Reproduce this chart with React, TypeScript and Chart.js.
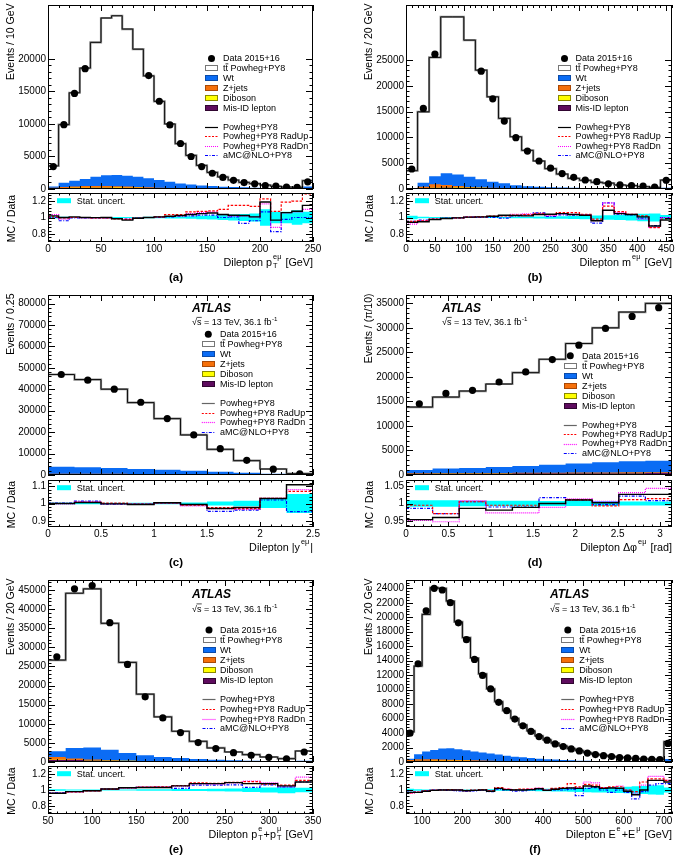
import React, { useEffect, useRef } from 'react';
import { Chart, registerables } from 'chart.js';

Chart.register(...registerables);

const FONT = '"Liberation Sans", Arial, Helvetica, sans-serif';
const C_WT = '#0b6cf4';
const C_ZJ = '#f5700a';
const C_DB = '#ffff00';
const C_MIS = '#5e0b5e';
const C_STAT = '#00ffff';
const C_UP = '#ff0000';
const C_DN = '#ff00ff';
const C_AMC = '#0000ff';

// ---------------- (a) dilepton pT ----------------
const aEdges = [0, 10, 20, 30, 40, 50, 60, 70, 80, 90, 100, 110, 120, 130, 140, 150, 160, 170, 180, 190, 200, 210, 220, 230, 240, 250];
const aData = [3450, 9900, 14700, 18500, null, null, null, null, null, 17450, 13500, 9850, 7000, 5000, 3450, 2420, 1780, 1330, 990, 800, 520, 440, 285, 245, 1110];
const aPred = [3550, 9900, 14800, 18600, 22550, 26300, 26650, 24600, 21500, 17400, 13480, 10000, 6970, 5170, 3630, 2550, 1850, 1380, 1020, 815, 610, 420, 300, 265, 1280];
const aWt = [210, 660, 900, 1100, 1425, 1630, 1730, 1680, 1585, 1390, 1175, 935, 720, 595, 462, 380, 290, 249, 207, 165, 119, 94, 78, 62, 330];
const aZjets = [100, 150, 200, 240, 250, 240, 200, 160, 120, 90, 60, 45, 35, 25, 20, 15, 12, 10, 8, 6, 5, 4, 4, 3, 10];
const aDiboson = [10, 20, 30, 40, 45, 50, 50, 50, 45, 40, 35, 30, 25, 20, 18, 15, 13, 11, 10, 9, 8, 7, 6, 5, 20];
const aMisid = [80, 120, 150, 170, 180, 180, 170, 160, 150, 130, 110, 90, 70, 60, 50, 40, 35, 30, 25, 20, 18, 15, 12, 10, 40];
const aRNom = [1.02, 1.0, 1.008, 1.0, 0.998, 1.0, 0.984, 0.968, 0.99, 1.0, 1.008, 1.016, 1.024, 1.036, 1.048, 1.056, 1.036, 1.028, 1.024, 1.008, 1.19, 0.968, 1.06, 1.076, 1.148];
const aRUp = [1.008, 0.996, 1.0, 1.0, 0.996, 0.996, 0.984, 0.976, 0.992, 1.0, 1.008, 1.036, 1.036, 1.068, 1.076, 1.08, 1.1, 1.148, 1.148, 1.136, 1.228, 1.076, 1.188, 1.2, 1.288];
const aRDn = [1.036, 0.98, 1.0, 0.996, 0.996, 0.996, 0.988, 0.976, 0.99, 1.0, 1.004, 1.012, 1.02, 1.048, 1.06, 1.068, 1.036, 1.016, 1.016, 1.008, 1.168, 0.88, 1.056, 1.068, 1.1];
const aRAmc = [1.0, 0.96, 0.996, 0.996, 0.996, 0.996, 0.988, 0.98, 0.992, 1.0, 1.0, 1.008, 1.016, 1.02, 1.03, 1.03, 1.0, 1.008, 0.928, 0.96, 1.068, 0.828, 0.976, 1.0, 1.0];
const aStat = [0.012, 0.008, 0.006, 0.006, 0.006, 0.006, 0.006, 0.006, 0.007, 0.008, 0.009, 0.011, 0.013, 0.016, 0.02, 0.024, 0.03, 0.036, 0.042, 0.05, 0.1, 0.07, 0.07, 0.09, 0.07];
const aXTicks = [0, 50, 100, 150, 200, 250];
const aXLabels = ['0', '50', '100', '150', '200', '250'];
const aYTicks = [0, 5000, 10000, 15000, 20000];
const aYLabels = ['0', '5000', '10000', '15000', '20000'];

// ---------------- (b) dilepton mass ----------------
const bEdges = [0, 20, 40, 60, 80, 100, 120, 140, 160, 180, 200, 220, 240, 260, 280, 300, 320, 340, 360, 380, 400, 420, 440, 460];
const bData = [3880, 15640, 26160, null, null, null, 22870, 17500, 13180, 9950, 7360, 5430, 4050, 3000, 2260, 1750, 1420, 1010, 800, 650, 550, 390, 1700];
const bPred = [3550, 14980, 25520, 33400, 33400, 28880, 23060, 17890, 13700, 10140, 7500, 5430, 3940, 2900, 2070, 1690, 1300, 1140, 780, 650, 450, 320, 1740];
const bWt = [115, 770, 1580, 2270, 2230, 1995, 1570, 1185, 915, 610, 440, 332, 279, 223, 174, 143, 119, 95, 79, 62, 56, 48, 200];
const bZjets = [20, 250, 600, 450, 250, 120, 70, 40, 25, 15, 10, 8, 6, 5, 4, 3, 3, 2, 2, 2, 1, 1, 5];
const bDiboson = [5, 30, 50, 60, 60, 55, 50, 45, 40, 35, 30, 25, 20, 17, 14, 12, 10, 8, 7, 6, 5, 4, 15];
const bMisid = [30, 150, 250, 280, 260, 230, 190, 150, 120, 90, 70, 55, 45, 35, 28, 22, 18, 15, 12, 10, 8, 7, 30];
const bRNom = [0.94, 0.948, 0.976, 0.988, 0.996, 1.004, 1.008, 1.016, 1.028, 1.024, 1.02, 1.036, 1.04, 1.048, 1.036, 1.028, 0.96, 1.088, 1.048, 1.036, 1.008, 0.896, 0.968];
const bRUp = [0.952, 0.96, 0.98, 0.99, 0.996, 1.004, 1.008, 1.016, 1.02, 1.028, 1.036, 1.052, 1.036, 1.06, 1.06, 1.04, 0.98, 1.14, 1.072, 1.04, 1.02, 0.876, 0.98];
const bRDn = [0.92, 0.96, 0.976, 0.988, 0.996, 1.004, 1.008, 1.012, 1.024, 1.04, 1.044, 1.048, 1.024, 1.044, 1.04, 1.036, 0.96, 1.18, 1.06, 1.04, 0.98, 0.88, 1.0];
const bRAmc = [0.952, 0.968, 0.98, 0.992, 0.996, 1.004, 1.0, 1.0, 0.992, 1.02, 1.028, 1.056, 1.012, 1.032, 1.028, 1.028, 0.932, 1.18, 1.04, 1.032, 0.992, 0.9, 1.0];
const bStat = [0.02, 0.008, 0.006, 0.005, 0.005, 0.005, 0.006, 0.007, 0.008, 0.009, 0.01, 0.012, 0.014, 0.016, 0.019, 0.022, 0.025, 0.028, 0.032, 0.036, 0.045, 0.05, 0.03];
const bXTicks = [0, 50, 100, 150, 200, 250, 300, 350, 400, 450];
const bXLabels = ['0', '50', '100', '150', '200', '250', '300', '350', '400', '450'];
const bYTicks = [0, 5000, 10000, 15000, 20000, 25000];
const bYLabels = ['0', '5000', '10000', '15000', '20000', '25000'];

// ---------------- (c) dilepton |y| ----------------
const cEdges = [0, 0.25, 0.5, 0.75, 1, 1.25, 1.5, 1.75, 2, 2.25, 2.5];
const cData = [46900, 44240, 40030, 33960, 26320, 18690, 12300, 6850, 2700, 560];
const cPred = [46900, 44550, 40030, 33800, 26320, 18690, 11990, 6700, 2800, 620];
const cWt = [3280, 2987, 2705, 2280, 2025, 1625, 1258, 895, 522, 173];
const cZjets = [120, 115, 110, 100, 90, 75, 60, 40, 20, 5];
const cDiboson = [50, 48, 45, 40, 35, 30, 22, 15, 8, 2];
const cMisid = [450, 430, 410, 380, 340, 290, 220, 150, 70, 20];
const cRNom = [1.0, 1.006, 0.998, 0.994, 1.004, 0.994, 0.971, 0.977, 1.029, 1.108];
const cRUp = [1.0, 1.006, 1.002, 0.996, 1.004, 0.99, 0.976, 0.97, 1.03, 1.07];
const cRDn = [0.998, 1.01, 0.998, 0.996, 1.002, 0.986, 0.97, 0.966, 1.03, 1.08];
const cRAmc = [1.002, 1.014, 0.996, 0.996, 1.004, 0.994, 0.955, 0.962, 1.02, 0.953];
const cStat = [0.004, 0.004, 0.004, 0.004, 0.005, 0.006, 0.012, 0.016, 0.026, 0.055];
const cXTicks = [0, 0.5, 1, 1.5, 2, 2.5];
const cXLabels = ['0', '0.5', '1', '1.5', '2', '2.5'];
const cYTicks = [0, 10000, 20000, 30000, 40000, 50000, 60000, 70000, 80000];
const cYLabels = ['0', '10000', '20000', '30000', '40000', '50000', '60000', '70000', '80000'];

// ---------------- (d) dilepton delta phi ----------------
const dEdges = [0, 0.3142, 0.6283, 0.9425, 1.2566, 1.5708, 1.885, 2.1991, 2.5133, 2.8274, 3.1416];
const dData = [14530, 16640, 17260, 18960, 21010, 23530, 26470, 29880, 32330, 34110];
const dPred = [13850, 15890, 17120, 18550, 20870, 23600, 26810, 30010, 33220, 34990];
const dWt = [660, 923, 1036, 1224, 1402, 1650, 1833, 2076, 2254, 2352];
const dZjets = [40, 45, 50, 60, 70, 80, 95, 110, 130, 150];
const dDiboson = [20, 22, 24, 26, 28, 30, 32, 34, 36, 38];
const dMisid = [300, 310, 320, 330, 340, 350, 360, 370, 380, 390];
const dRNom = [0.954, 0.96, 0.986, 0.981, 0.989, 1.0, 1.01, 1.002, 1.026, 1.026];
const dRUp = [0.995, 0.971, 1.005, 0.995, 0.995, 1.0, 1.011, 0.993, 1.011, 1.014];
const dRDn = [0.952, 0.948, 1.008, 0.973, 0.973, 0.989, 1.013, 1.006, 1.031, 1.043];
const dRAmc = [0.986, 0.971, 1.005, 0.99, 0.99, 1.017, 1.01, 0.997, 1.021, 1.008];
const dStat = [0.009, 0.009, 0.008, 0.008, 0.008, 0.007, 0.007, 0.007, 0.006, 0.006];
const dXTicks = [0, 0.5, 1, 1.5, 2, 2.5, 3];
const dXLabels = ['0', '0.5', '1', '1.5', '2', '2.5', '3'];
const dYTicks = [0, 5000, 10000, 15000, 20000, 25000, 30000, 35000];
const dYLabels = ['0', '5000', '10000', '15000', '20000', '25000', '30000', '35000'];

// ---------------- (e) pT(e)+pT(mu) ----------------
const eEdges = [50, 70, 90, 110, 130, 150, 170, 190, 210, 230, 250, 270, 290, 310, 330, 350];
const eData = [27530, 45280, 46150, 36450, 25520, 17050, 11540, 7690, 5070, 3500, 2450, 1750, 1210, 830, 2620];
const ePred = [26660, 44140, 45280, 36280, 26050, 17740, 11800, 8040, 5420, 3670, 2620, 1920, 1310, 870, 2880];
const eWt = [1470, 2775, 3135, 2775, 2025, 1508, 1133, 924, 698, 544, 392, 314, 232, 150, 302];
const eZjets = [750, 350, 150, 70, 35, 20, 12, 8, 5, 4, 3, 2, 2, 1, 3];
const eDiboson = [30, 45, 55, 55, 50, 42, 35, 28, 22, 17, 13, 10, 8, 6, 15];
const eMisid = [550, 500, 420, 330, 250, 180, 130, 90, 65, 45, 32, 24, 18, 13, 30];
const eRNom = [0.96, 0.98, 0.99, 1.012, 1.028, 1.032, 1.032, 1.052, 1.08, 1.08, 1.092, 1.08, 1.08, 1.052, 1.1];
const eRUp = [0.956, 0.976, 0.988, 1.012, 1.028, 1.036, 1.04, 1.056, 1.088, 1.084, 1.096, 1.104, 1.072, 1.06, 1.12];
const eRDn = [0.96, 0.976, 0.992, 1.012, 1.024, 1.036, 1.036, 1.048, 1.076, 1.072, 1.088, 1.112, 1.088, 1.04, 1.16];
const eRAmc = [0.964, 0.98, 0.992, 1.012, 1.028, 1.032, 1.036, 1.02, 1.06, 1.06, 1.064, 1.032, 1.064, 1.04, 1.1];
const eStat = [0.008, 0.006, 0.006, 0.006, 0.007, 0.008, 0.01, 0.012, 0.014, 0.017, 0.02, 0.024, 0.03, 0.04, 0.028];
const eXTicks = [50, 100, 150, 200, 250, 300, 350];
const eXLabels = ['50', '100', '150', '200', '250', '300', '350'];
const eYTicks = [0, 5000, 10000, 15000, 20000, 25000, 30000, 35000, 40000, 45000];
const eYLabels = ['0', '5000', '10000', '15000', '20000', '25000', '30000', '35000', '40000', '45000'];

// ---------------- (f) E(e)+E(mu) ----------------
const fEdges = [60, 80, 100, 120, 140, 160, 180, 200, 220, 240, 260, 280, 300, 320, 340, 360, 380, 400, 420, 440, 460, 480, 500, 520, 540, 560, 580, 600, 620, 640, 660, 680, 700, 720];
const fData = [3990, 13580, 20900, 24000, 23770, 22010, 19230, 16910, 14180, 11960, 10100, 8250, 7090, 5930, 5000, 4220, 3520, 3010, 2500, 2130, 1810, 1530, 1240, 1020, 880, 760, 620, 560, 490, 410, 355, 320, 2560];
const fPred = [4170, 13250, 20390, 24100, 24000, 22240, 19370, 17190, 14370, 12190, 10100, 8340, 7090, 6020, 5140, 4310, 3610, 3060, 2600, 2220, 1850, 1580, 1300, 1070, 930, 790, 650, 560, 460, 420, 400, 360, 2830];
const fWt = [185, 695, 1055, 1305, 1505, 1582, 1470, 1360, 1212, 1099, 986, 869, 750, 630, 556, 479, 391, 332, 281, 239, 196, 161, 136, 109, 93, 80, 66, 59, 50, 42, 37, 33, 340];
const fZjets = [120, 200, 200, 180, 160, 140, 120, 100, 80, 65, 50, 40, 32, 25, 20, 16, 13, 10, 8, 6, 5, 4, 3, 3, 2, 2, 2, 1, 1, 1, 1, 1, 10];
const fDiboson = [5, 15, 25, 30, 35, 38, 40, 40, 38, 36, 34, 31, 28, 25, 22, 20, 18, 16, 14, 12, 10, 9, 8, 7, 6, 5, 5, 4, 4, 3, 3, 3, 20];
const fMisid = [150, 160, 160, 155, 150, 140, 130, 120, 110, 100, 90, 80, 70, 60, 52, 45, 38, 32, 27, 23, 19, 16, 13, 11, 9, 8, 7, 6, 5, 4, 4, 3, 30];
const fRNom = [0.97, 0.97, 0.985, 0.995, 1.0, 1.0, 1.0, 0.99, 0.995, 1.0, 0.985, 1.02, 1.005, 1.0, 1.0, 1.005, 1.015, 0.995, 1.01, 1.02, 1.025, 1.02, 1.05, 1.04, 1.02, 1.025, 1.02, 0.985, 0.94, 1.0, 1.12, 1.12, 1.1];
const fRUp = [0.965, 0.975, 0.99, 1.0, 1.0, 1.005, 1.0, 0.995, 1.0, 1.005, 0.99, 1.03, 1.01, 1.005, 1.01, 1.01, 1.02, 1.0, 1.02, 1.03, 1.08, 1.04, 1.07, 1.06, 1.03, 1.04, 1.04, 1.0, 0.98, 1.1, 1.14, 1.14, 1.12];
const fRDn = [0.96, 0.97, 0.985, 0.995, 1.0, 1.0, 1.005, 0.99, 0.995, 1.0, 0.99, 1.02, 1.01, 1.0, 1.005, 1.01, 1.025, 1.0, 1.01, 1.02, 1.03, 1.03, 1.1, 1.09, 1.03, 1.03, 1.05, 1.0, 0.96, 1.06, 1.17, 1.17, 1.12];
const fRAmc = [0.975, 0.975, 0.99, 1.0, 1.005, 0.995, 0.99, 0.985, 0.99, 0.995, 0.98, 1.01, 1.0, 0.985, 0.99, 1.0, 1.01, 0.995, 1.0, 1.0, 1.01, 0.93, 1.02, 1.03, 1.0, 0.97, 1.0, 0.97, 0.89, 0.98, 1.06, 1.08, 1.08];
const fStat = [0.015, 0.008, 0.006, 0.006, 0.006, 0.006, 0.006, 0.007, 0.007, 0.008, 0.009, 0.01, 0.011, 0.012, 0.013, 0.014, 0.016, 0.017, 0.019, 0.02, 0.022, 0.024, 0.027, 0.03, 0.032, 0.035, 0.038, 0.042, 0.047, 0.05, 0.055, 0.06, 0.03];
const fXTicks = [100, 200, 300, 400, 500, 600, 700];
const fXLabels = ['100', '200', '300', '400', '500', '600', '700'];
const fYTicks = [0, 2000, 4000, 6000, 8000, 10000, 12000, 14000, 16000, 18000, 20000, 22000, 24000];
const fYLabels = ['0', '2000', '4000', '6000', '8000', '10000', '12000', '14000', '16000', '18000', '20000', '22000', '24000'];

// ratio axes
const rTicksWide = [0.8, 1, 1.2];
const rLabelsWide = ['0.8', '1', '1.2'];
const rTicksC = [0.9, 1, 1.1];
const rLabelsC = ['0.9', '1', '1.1'];
const rTicksD = [0.95, 1, 1.05];
const rLabelsD = ['0.95', '1', '1.05'];

// ---------------- layout ----------------
const COLS = [
  { x0: 0, fl: 48, fr: 313, yTitleX: 11, rTitleX: 12, statX: 57, tagX: 176 },
  { x0: 342, fl: 406, fr: 672, yTitleX: 369, rTitleX: 370, statX: 415, tagX: 535 },
];
const ROWS = [
  { mt: 5, mb: 189, rt: 193, rb: 242 },
  { mt: 295, mb: 475, rt: 480, rb: 527 },
  { mt: 580, mb: 762, rt: 766, rb: 814 },
];
const CW = 343;

const PANELS: any[] = [
  {
    key: 'a', col: 0, row: 0, edges: aEdges, data: aData, pred: aPred, wt: aWt, zjets: aZjets, diboson: aDiboson, misid: aMisid,
    rNom: aRNom, rUp: aRUp, rDn: aRDn, rAmc: aRAmc, stat: aStat,
    xMin: 0, xMax: 250, xTicks: aXTicks, xLabels: aXLabels, xMinor: 10,
    yMax: 28300, yTicks: aYTicks, yLabels: aYLabels, yMinor: 1000, yTickTop: 20000,
    rMin: 0.7, rMax: 1.3, rTicks: rTicksWide, rLabels: rLabelsWide, rMinor: 0.04,
    yTitle: 'Events / 10 GeV',
    xTitle: [{ t: 'Dilepton p' }, { sub: 'T', sup: 'eμ' }, { t: ' [GeV]' }],
    tag: '(a)', atlas: null, nomColor: '#000',
    legend: { mx: 211.5, tx: 223, y1: 58.5, s1: 9.85, y2: 126.7, s2: 9.45 },
  },
  {
    key: 'b', col: 1, row: 0, edges: bEdges, data: bData, pred: bPred, wt: bWt, zjets: bZjets, diboson: bDiboson, misid: bMisid,
    rNom: bRNom, rUp: bRUp, rDn: bRDn, rAmc: bRAmc, stat: bStat,
    xMin: 0, xMax: 460, xTicks: bXTicks, xLabels: bXLabels, xMinor: 10,
    yMax: 35700, yTicks: bYTicks, yLabels: bYLabels, yMinor: 1000, yTickTop: 25000,
    rMin: 0.7, rMax: 1.3, rTicks: rTicksWide, rLabels: rLabelsWide, rMinor: 0.04,
    yTitle: 'Events / 20 GeV',
    xTitle: [{ t: 'Dilepton m' }, { sup: 'eμ' }, { t: ' [GeV]' }],
    tag: '(b)', atlas: null, nomColor: '#000',
    legend: { mx: 564.5, tx: 575.5, y1: 58.5, s1: 9.85, y2: 126.7, s2: 9.45 },
  },
  {
    key: 'c', col: 0, row: 1, edges: cEdges, data: cData, pred: cPred, wt: cWt, zjets: cZjets, diboson: cDiboson, misid: cMisid,
    rNom: cRNom, rUp: cRUp, rDn: cRDn, rAmc: cRAmc, stat: cStat,
    xMin: 0, xMax: 2.5, xTicks: cXTicks, xLabels: cXLabels, xMinor: 0.1,
    yMax: 84000, yTicks: cYTicks, yLabels: cYLabels, yMinor: 2000, yTickTop: 84000,
    rMin: 0.865, rMax: 1.135, rTicks: rTicksC, rLabels: rLabelsC, rMinor: 0.02,
    yTitle: 'Events / 0.25',
    xTitle: [{ t: 'Dilepton |y' }, { sup: 'eμ' }, { t: '|' }],
    tag: '(c)', atlas: { x: 192, y: 311.5, sy: 325 }, nomColor: '#666',
    legend: { mx: 208.3, tx: 220, y1: 334.3, s1: 10, y2: 403.3, s2: 9.47 },
  },
  {
    key: 'd', col: 1, row: 1, edges: dEdges, data: dData, pred: dPred, wt: dWt, zjets: dZjets, diboson: dDiboson, misid: dMisid,
    rNom: dRNom, rUp: dRUp, rDn: dRDn, rAmc: dRAmc, stat: dStat,
    xMin: 0, xMax: 3.1416, xTicks: dXTicks, xLabels: dXLabels, xMinor: 0.1,
    yMax: 36700, yTicks: dYTicks, yLabels: dYLabels, yMinor: 1000, yTickTop: 36700,
    rMin: 0.933, rMax: 1.067, rTicks: rTicksD, rLabels: rLabelsD, rMinor: 0.01,
    yTitle: 'Events / (π/10)',
    xTitle: [{ t: 'Dilepton Δφ' }, { sup: 'eμ' }, { t: ' [rad]' }],
    tag: '(d)', atlas: { x: 442, y: 311.5, sy: 325 }, nomColor: '#666',
    legend: { mx: 570.3, tx: 582, y1: 355.7, s1: 10, y2: 425, s2: 9.25 },
  },
  {
    key: 'e', col: 0, row: 2, edges: eEdges, data: eData, pred: ePred, wt: eWt, zjets: eZjets, diboson: eDiboson, misid: eMisid,
    rNom: eRNom, rUp: eRUp, rDn: eRDn, rAmc: eRAmc, stat: eStat,
    xMin: 50, xMax: 350, xTicks: eXTicks, xLabels: eXLabels, xMinor: 10,
    yMax: 47600, yTicks: eYTicks, yLabels: eYLabels, yMinor: 1000, yTickTop: 47600,
    rMin: 0.7, rMax: 1.3, rTicks: rTicksWide, rLabels: rLabelsWide, rMinor: 0.04,
    yTitle: 'Events / 20 GeV',
    xTitle: [{ t: 'Dilepton p' }, { sub: 'T', sup: 'e' }, { t: '+p' }, { sub: 'T', sup: 'μ' }, { t: ' [GeV]' }],
    tag: '(e)', atlas: { x: 192, y: 598, sy: 611.5 }, nomColor: '#666',
    legend: { mx: 209, tx: 220, y1: 630, s1: 10.1, y2: 699.3, s2: 9.67 },
  },
  {
    key: 'f', col: 1, row: 2, edges: fEdges, data: fData, pred: fPred, wt: fWt, zjets: fZjets, diboson: fDiboson, misid: fMisid,
    rNom: fRNom, rUp: fRUp, rDn: fRDn, rAmc: fRAmc, stat: fStat,
    xMin: 60, xMax: 720, xTicks: fXTicks, xLabels: fXLabels, xMinor: 20,
    yMax: 25150, yTicks: fYTicks, yLabels: fYLabels, yMinor: 400, yTickTop: 25150,
    rMin: 0.7, rMax: 1.3, rTicks: rTicksWide, rLabels: rLabelsWide, rMinor: 0.04,
    yTitle: 'Events / 20 GeV',
    xTitle: [{ t: 'Dilepton E' }, { sup: 'e' }, { t: '+E' }, { sup: 'μ' }, { t: ' [GeV]' }],
    tag: '(f)', atlas: { x: 550, y: 598, sy: 611.5 }, nomColor: '#666',
    legend: { mx: 567.8, tx: 579.3, y1: 630, s1: 10.1, y2: 699.3, s2: 9.67 },
  },
];

// ---------------- helpers ----------------
function stepPoints(edges: number[], vals: number[]) {
  const pts = vals.map((v, i) => ({ x: edges[i], y: v }));
  pts.push({ x: edges[edges.length - 1], y: vals[vals.length - 1] });
  return pts;
}
function addArr(a: number[], b: number[]) {
  return a.map((v, i) => v + b[i]);
}
function labelFor(ticks: number[], labels: string[], v: number) {
  const i = ticks.findIndex((t) => Math.abs(t - v) < 1e-6 * Math.max(1, Math.abs(t)));
  return i >= 0 ? labels[i] : '';
}

function frameAndTicks(ctx: any, ca: any, xs: any, ys: any, xt: number[], xminor: number, yt: number[], yminor: number, yTop: number, xMaj: number, xMin: number, yMaj: number, yMin: number) {
  ctx.save();
  ctx.strokeStyle = '#000';
  ctx.lineWidth = 1;
  ctx.setLineDash([]);
  ctx.beginPath();
  const near = (arr: number[], v: number, step: number) => arr.some((m) => Math.abs(m - v) < step * 0.01);
  const k0 = Math.ceil(xs.min / xminor - 1e-6);
  const k1 = Math.floor(xs.max / xminor + 1e-6);
  for (let k = k0; k <= k1; k++) {
    const v = k * xminor;
    const L = near(xt, v, xminor) ? xMaj : xMin;
    const px = Math.round(xs.getPixelForValue(v)) + 0.5;
    ctx.moveTo(px, ca.bottom);
    ctx.lineTo(px, ca.bottom - L);
    ctx.moveTo(px, ca.top);
    ctx.lineTo(px, ca.top + L);
  }
  const j0 = Math.ceil(ys.min / yminor - 1e-6);
  const j1 = Math.floor(Math.min(ys.max, yTop) / yminor + 1e-6);
  for (let j = j0; j <= j1; j++) {
    const v = j * yminor;
    const L = near(yt, v, yminor) ? yMaj : yMin;
    const py = Math.round(ys.getPixelForValue(v)) + 0.5;
    ctx.moveTo(ca.left, py);
    ctx.lineTo(ca.left + L, py);
    ctx.moveTo(ca.right, py);
    ctx.lineTo(ca.right - L, py);
  }
  ctx.stroke();
  ctx.strokeRect(ca.left + 0.5, ca.top + 0.5, ca.right - ca.left - 1, ca.bottom - ca.top - 1);
  ctx.restore();
}

function drawRich(ctx: any, segs: any[], xRight: number, yBase: number, size: number) {
  const base = `${size}px ${FONT}`;
  const small = `${(size * 0.68).toFixed(2)}px ${FONT}`;
  const widths = segs.map((s) => {
    if (s.t != null) {
      ctx.font = base;
      return ctx.measureText(s.t).width;
    }
    ctx.font = small;
    const w1 = s.sup ? ctx.measureText(s.sup).width : 0;
    const w2 = s.sub ? ctx.measureText(s.sub).width : 0;
    return Math.max(w1, w2) + 2;
  });
  const total = widths.reduce((a: number, b: number) => a + b, 0);
  let x = xRight - total;
  ctx.textAlign = 'left';
  ctx.textBaseline = 'alphabetic';
  ctx.fillStyle = '#000';
  segs.forEach((s, i) => {
    if (s.t != null) {
      ctx.font = base;
      ctx.fillText(s.t, x, yBase);
    } else {
      ctx.font = small;
      if (s.sup) ctx.fillText(s.sup, x + 1, yBase - size * 0.6);
      if (s.sub) ctx.fillText(s.sub, x + 1, yBase + size * 0.22);
    }
    x += widths[i];
  });
}

function drawLegend(ctx: any, p: any, ox: number, oy: number) {
  const L = p.legend;
  const mx = L.mx - ox;
  const tx = L.tx - ox;
  const r1 = [0, 1, 2, 3, 4, 5].map((i) => L.y1 + i * L.s1 - oy);
  const r2 = [0, 1, 2, 3].map((i) => L.y2 + i * L.s2 - oy);
  ctx.save();
  ctx.font = `9px ${FONT}`;
  ctx.textAlign = 'left';
  ctx.textBaseline = 'middle';
  ctx.fillStyle = '#000';
  // data
  ctx.beginPath();
  ctx.arc(mx, r1[0], 3.5, 0, Math.PI * 2);
  ctx.fill();
  ctx.fillText('Data 2015+16', tx, r1[0] + 0.5);
  const box = (y: number, fill: string, stroke: string) => {
    const bx = Math.round(mx - 6.5);
    const by = Math.round(y - 3);
    ctx.fillStyle = fill;
    ctx.fillRect(bx, by, 13, 6);
    ctx.strokeStyle = stroke;
    ctx.lineWidth = 1;
    ctx.strokeRect(bx + 0.5, by + 0.5, 12, 5);
  };
  box(r1[1], '#fff', '#777');
  box(r1[2], C_WT, '#0a4aa8');
  box(r1[3], C_ZJ, '#a84806');
  box(r1[4], C_DB, '#8a8a00');
  box(r1[5], C_MIS, '#300530');
  ctx.fillStyle = '#000';
  const tw = ctx.measureText('t').width;
  ctx.fillText('t', tx, r1[1] + 0.5);
  ctx.fillText('t', tx + tw, r1[1] + 0.5);
  ctx.fillText(' Powheg+PY8', tx + 2 * tw, r1[1] + 0.5);
  ctx.strokeStyle = '#000';
  ctx.lineWidth = 0.8;
  ctx.beginPath();
  ctx.moveTo(tx + tw, r1[1] - 4.5);
  ctx.lineTo(tx + 2 * tw + 0.3, r1[1] - 4.5);
  ctx.stroke();
  ctx.fillText('Wt', tx, r1[2] + 0.5);
  ctx.fillText('Z+jets', tx, r1[3] + 0.5);
  ctx.fillText('Diboson', tx, r1[4] + 0.5);
  ctx.fillText('Mis-ID lepton', tx, r1[5] + 0.5);
  const line = (y: number, color: string, dash: number[], w: number) => {
    ctx.save();
    ctx.strokeStyle = color;
    ctx.lineWidth = w;
    ctx.setLineDash(dash);
    ctx.beginPath();
    const yy = Math.round(y) + 0.5;
    ctx.moveTo(mx - 6.5, yy);
    ctx.lineTo(mx + 6.5, yy);
    ctx.stroke();
    ctx.restore();
  };
  line(r2[0], p.nomColor, [], 1.2);
  line(r2[1], C_UP, [2, 1.5], 1.2);
  line(r2[2], C_DN, [1, 1], 1.2);
  line(r2[3], C_AMC, [3, 1.5, 1, 1.5], 1.2);
  ctx.fillStyle = '#000';
  ctx.fillText('Powheg+PY8', tx, r2[0] + 0.5);
  ctx.fillText('Powheg+PY8 RadUp', tx, r2[1] + 0.5);
  ctx.fillText('Powheg+PY8 RadDn', tx, r2[2] + 0.5);
  ctx.fillText('aMC@NLO+PY8', tx, r2[3] + 0.5);
  ctx.restore();
}

function drawAtlas(ctx: any, a: any, ox: number, oy: number) {
  ctx.save();
  ctx.fillStyle = '#000';
  ctx.strokeStyle = '#000';
  ctx.textAlign = 'left';
  ctx.textBaseline = 'alphabetic';
  ctx.font = `italic bold 12px ${FONT}`;
  ctx.fillText('ATLAS', a.x - ox, a.y - oy);
  ctx.font = `9px ${FONT}`;
  const sx = a.x - ox;
  const sy = a.sy - oy;
  const s1 = '√s = 13 TeV, 36.1 fb';
  ctx.fillText(s1, sx, sy);
  const wR = ctx.measureText('√').width;
  const wS = ctx.measureText('√s').width;
  ctx.lineWidth = 0.7;
  ctx.beginPath();
  ctx.moveTo(sx + wR - 0.4, sy - 7.6);
  ctx.lineTo(sx + wS + 0.3, sy - 7.6);
  ctx.stroke();
  const w1 = ctx.measureText(s1).width;
  ctx.font = `6.2px ${FONT}`;
  ctx.fillText('-1', sx + w1 + 0.5, sy - 4);
  ctx.restore();
}

function mainConfig(p: any) {
  const col = COLS[p.col];
  const row = ROWS[p.row];
  const ox = col.x0;
  const oy = row.mt - 5;
  const c1 = p.misid;
  const c2 = addArr(c1, p.diboson);
  const c3 = addArr(c2, p.zjets);
  const c4 = addArr(c3, p.wt);
  const pts = p.data
    .map((v: number | null, i: number) => (v == null ? null : { x: (p.edges[i] + p.edges[i + 1]) / 2, y: v }))
    .filter((d: any) => d != null);
  const fillDs = (vals: number[], color: string) => ({
    data: stepPoints(p.edges, vals), stepped: true, borderWidth: 0, borderColor: 'rgba(0,0,0,0)',
    backgroundColor: color, fill: 'origin', pointRadius: 0,
  });
  const plugin = {
    id: 'mainDeco',
    afterDatasetsDraw(chart: any) {
      const ctx = chart.ctx;
      const ca = chart.chartArea;
      frameAndTicks(ctx, ca, chart.scales.x, chart.scales.y, p.xTicks, p.xMinor, p.yTicks, p.yMinor, p.yTickTop, 6, 3, 7, 3.5);
      ctx.save();
      ctx.fillStyle = '#000';
      ctx.font = `10.5px ${FONT}`;
      ctx.translate(col.yTitleX - ox, row.mt - 1.5 - oy);
      ctx.rotate(-Math.PI / 2);
      ctx.textAlign = 'right';
      ctx.textBaseline = 'middle';
      ctx.fillText(p.yTitle, 0, 0);
      ctx.restore();
      if (p.atlas) drawAtlas(ctx, p.atlas, ox, oy);
      drawLegend(ctx, p, ox, oy);
    },
  };
  return {
    type: 'line',
    data: {
      datasets: [
        { data: pts, showLine: false, pointRadius: 3.6, pointBackgroundColor: '#000', pointBorderWidth: 0, borderColor: '#000' },
        { data: stepPoints(p.edges, p.pred), stepped: true, borderColor: '#111', borderWidth: 1, pointRadius: 0, fill: false },
        { data: stepPoints(p.edges, p.pred), stepped: true, borderColor: '#8c8c8c', borderWidth: 2.2, pointRadius: 0, fill: false },
        fillDs(c1, C_MIS),
        fillDs(c2, C_DB),
        fillDs(c3, C_ZJ),
        fillDs(c4, C_WT),
      ],
    },
    options: {
      animation: false,
      responsive: false,
      events: [],
      layout: { padding: { left: 0, right: CW - (col.fr - col.x0), top: 5, bottom: 7 }, autoPadding: false },
      plugins: { legend: { display: false }, tooltip: { enabled: false } },
      scales: {
        x: { type: 'linear', min: p.xMin, max: p.xMax, display: false },
        y: {
          type: 'linear', min: 0, max: p.yMax,
          grid: { display: false, drawTicks: false },
          border: { display: false },
          afterBuildTicks: (s: any) => { s.ticks = p.yTicks.map((v: number) => ({ value: v })); },
          afterFit: (s: any) => { s.width = col.fl - col.x0; s.paddingTop = 0; s.paddingBottom = 0; },
          ticks: {
            autoSkip: false, padding: 2, color: '#000', font: { family: FONT, size: 10 },
            callback: (v: number) => labelFor(p.yTicks, p.yLabels, v),
          },
        },
      },
    },
    plugins: [plugin],
  };
}

function ratioConfig(p: any) {
  const col = COLS[p.col];
  const row = ROWS[p.row];
  const ox = col.x0;
  const oy = row.rt - 5;
  const line = (vals: number[], color: string, dash: number[], w: number) => ({
    data: stepPoints(p.edges, vals), stepped: true, borderColor: color, borderWidth: w, borderDash: dash,
    pointRadius: 0, fill: false,
  });
  const plugin = {
    id: 'ratioDeco',
    afterDatasetsDraw(chart: any) {
      const ctx = chart.ctx;
      const ca = chart.chartArea;
      frameAndTicks(ctx, ca, chart.scales.x, chart.scales.y, p.xTicks, p.xMinor, p.rTicks, p.rMinor, p.rMax, 5, 2.5, 7, 3.5);
      ctx.save();
      // stat legend
      const by = row.rt + 7.7 - oy;
      const bx = col.statX - ox;
      ctx.fillStyle = C_STAT;
      ctx.fillRect(bx, by - 2.5, 14, 5);
      ctx.fillStyle = '#000';
      ctx.font = `9px ${FONT}`;
      ctx.textAlign = 'left';
      ctx.textBaseline = 'middle';
      ctx.fillText('Stat. uncert.', bx + 19.7, by + 0.5);
      // y title
      ctx.save();
      ctx.font = `10.5px ${FONT}`;
      ctx.translate(col.rTitleX - ox, (row.rt + row.rb) / 2 + 1 - oy);
      ctx.rotate(-Math.PI / 2);
      ctx.textAlign = 'center';
      ctx.textBaseline = 'middle';
      ctx.fillText('MC / Data', 0, 0);
      ctx.restore();
      // x title
      drawRich(ctx, p.xTitle, col.fr - ox, row.rb + 23.5 - oy, 10.8);
      // panel tag
      ctx.font = `bold 11.5px ${FONT}`;
      ctx.textAlign = 'center';
      ctx.textBaseline = 'middle';
      ctx.fillStyle = '#000';
      ctx.fillText(p.tag, col.tagX - ox, row.rb + 36 - oy);
      ctx.restore();
    },
  };
  return {
    type: 'line',
    data: {
      datasets: [
        line(p.rNom, '#000', [], 1.4),
        line(p.rUp, C_UP, [2.5, 1.5], 1.2),
        line(p.rDn, C_DN, [1, 1], 1.2),
        line(p.rAmc, C_AMC, [3, 1.5, 1, 1.5], 1.2),
        {
          data: stepPoints(p.edges, p.stat.map((e: number) => 1 + e)), stepped: true, borderWidth: 0,
          borderColor: 'rgba(0,0,0,0)', backgroundColor: C_STAT, fill: '+1', pointRadius: 0,
        },
        {
          data: stepPoints(p.edges, p.stat.map((e: number) => 1 - e)), stepped: true, borderWidth: 0,
          borderColor: 'rgba(0,0,0,0)', fill: false, pointRadius: 0,
        },
      ],
    },
    options: {
      animation: false,
      responsive: false,
      events: [],
      layout: { padding: { left: 0, right: CW - (col.fr - col.x0), top: 5, bottom: 0 }, autoPadding: false },
      plugins: { legend: { display: false }, tooltip: { enabled: false } },
      scales: {
        x: {
          type: 'linear', min: p.xMin, max: p.xMax, position: 'bottom',
          grid: { display: false, drawTicks: false },
          border: { display: false },
          afterBuildTicks: (s: any) => { s.ticks = p.xTicks.map((v: number) => ({ value: v })); },
          afterFit: (s: any) => { s.height = 44; s.paddingLeft = 0; s.paddingRight = 0; },
          ticks: {
            autoSkip: false, maxRotation: 0, minRotation: 0, padding: 1, color: '#000', font: { family: FONT, size: 10 },
            callback: (v: number) => labelFor(p.xTicks, p.xLabels, v),
          },
        },
        y: {
          type: 'linear', min: p.rMin, max: p.rMax,
          grid: { display: false, drawTicks: false },
          border: { display: false },
          afterBuildTicks: (s: any) => { s.ticks = p.rTicks.map((v: number) => ({ value: v })); },
          afterFit: (s: any) => { s.width = col.fl - col.x0; s.paddingTop = 0; s.paddingBottom = 0; },
          ticks: {
            autoSkip: false, padding: 2, color: '#000', font: { family: FONT, size: 10 },
            callback: (v: number) => labelFor(p.rTicks, p.rLabels, v),
          },
        },
      },
    },
    plugins: [plugin],
  };
}

function Panel({ p }: { p: any }) {
  const mainRef = useRef<HTMLCanvasElement>(null);
  const ratioRef = useRef<HTMLCanvasElement>(null);
  const col = COLS[p.col];
  const row = ROWS[p.row];
  useEffect(() => {
    const c1 = new Chart(mainRef.current as HTMLCanvasElement, mainConfig(p) as any);
    const c2 = new Chart(ratioRef.current as HTMLCanvasElement, ratioConfig(p) as any);
    return () => {
      c1.destroy();
      c2.destroy();
    };
  }, []);
  const mTop = row.mt - 5;
  const mH = row.mb + 7 - mTop;
  const rTop = row.rt - 5;
  const rH = row.rb + 44 - rTop;
  return (
    <>
      <canvas ref={mainRef} width={CW} height={mH}
        style={{ position: 'absolute', left: col.x0, top: mTop, width: CW, height: mH }} />
      <canvas ref={ratioRef} width={CW} height={rH}
        style={{ position: 'absolute', left: col.x0, top: rTop, width: CW, height: rH }} />
    </>
  );
}

export default function App() {
  return (
    <div style={{ position: 'fixed', left: 0, top: 0, width: 685, height: 857, background: '#fff', overflow: 'hidden' }}>
      {PANELS.map((p) => (
        <Panel key={p.key} p={p} />
      ))}
    </div>
  );
}
